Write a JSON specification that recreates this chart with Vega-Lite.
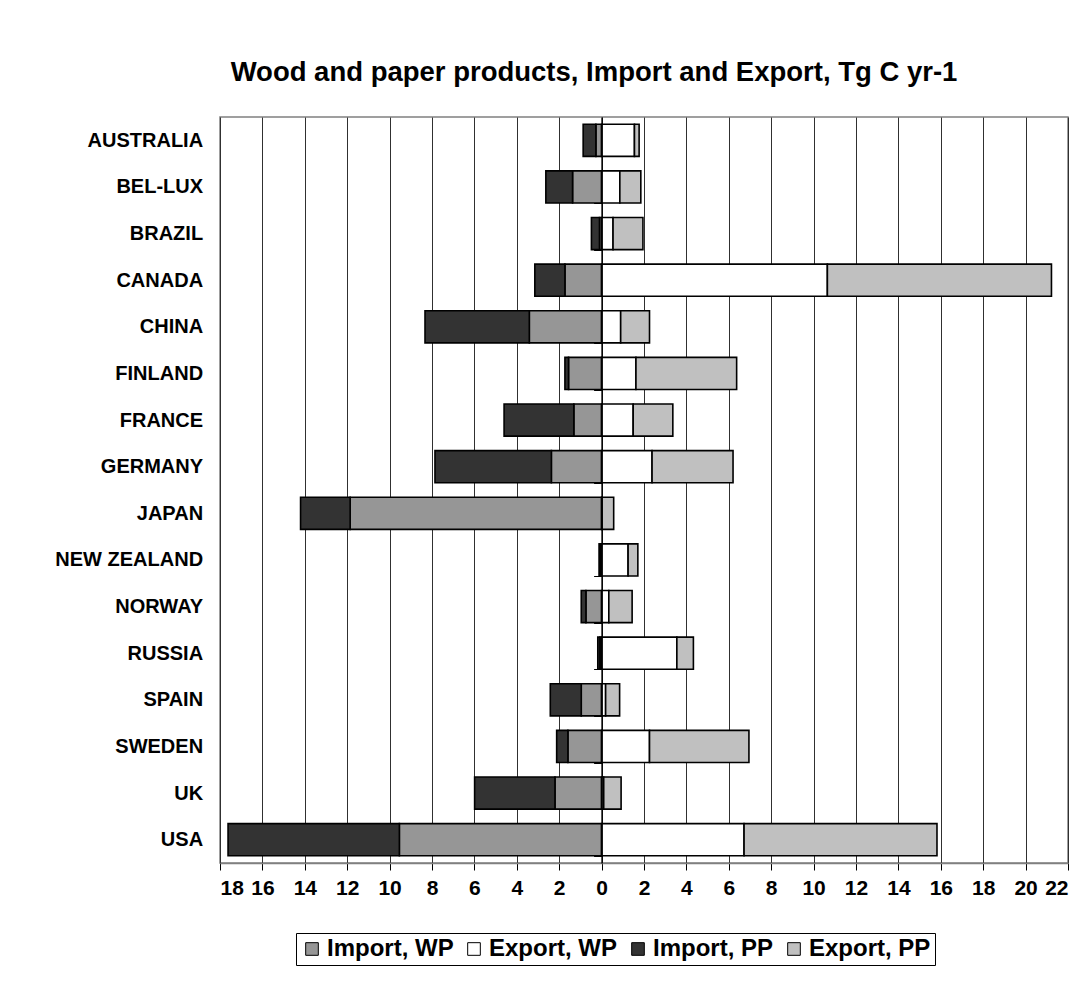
{
  "$schema": "https://vega.github.io/schema/vega-lite/v6.json",
  "width": 848,
  "height": 746,
  "autosize": {"type": "none"},
  "padding": {"left": 220, "top": 117, "right": 21, "bottom": 136},
  "background": "white",
  "title": {
    "text": "Wood and paper products, Import and Export, Tg C yr-1",
    "font": "Liberation Sans",
    "fontSize": 27.5,
    "fontWeight": "bold",
    "color": "black",
    "anchor": "middle",
    "dx": -50,
    "offset": 21
  },
  "data": {
    "values": [
      {"country": "AUSTRALIA", "flow": "Import, WP", "value": -0.27},
      {"country": "AUSTRALIA", "flow": "Export, WP", "value": 1.55},
      {"country": "AUSTRALIA", "flow": "Import, PP", "value": -0.6},
      {"country": "AUSTRALIA", "flow": "Export, PP", "value": 0.22},
      {"country": "BEL-LUX", "flow": "Import, WP", "value": -1.37},
      {"country": "BEL-LUX", "flow": "Export, WP", "value": 0.86},
      {"country": "BEL-LUX", "flow": "Import, PP", "value": -1.26},
      {"country": "BEL-LUX", "flow": "Export, PP", "value": 0.99},
      {"country": "BRAZIL", "flow": "Import, WP", "value": -0.1},
      {"country": "BRAZIL", "flow": "Export, WP", "value": 0.54},
      {"country": "BRAZIL", "flow": "Import, PP", "value": -0.38},
      {"country": "BRAZIL", "flow": "Export, PP", "value": 1.41},
      {"country": "CANADA", "flow": "Import, WP", "value": -1.73},
      {"country": "CANADA", "flow": "Export, WP", "value": 10.65},
      {"country": "CANADA", "flow": "Import, PP", "value": -1.42},
      {"country": "CANADA", "flow": "Export, PP", "value": 10.57},
      {"country": "CHINA", "flow": "Import, WP", "value": -3.41},
      {"country": "CHINA", "flow": "Export, WP", "value": 0.9},
      {"country": "CHINA", "flow": "Import, PP", "value": -4.92},
      {"country": "CHINA", "flow": "Export, PP", "value": 1.36},
      {"country": "FINLAND", "flow": "Import, WP", "value": -1.56},
      {"country": "FINLAND", "flow": "Export, WP", "value": 1.62},
      {"country": "FINLAND", "flow": "Import, PP", "value": -0.17},
      {"country": "FINLAND", "flow": "Export, PP", "value": 4.75},
      {"country": "FRANCE", "flow": "Import, WP", "value": -1.31},
      {"country": "FRANCE", "flow": "Export, WP", "value": 1.49},
      {"country": "FRANCE", "flow": "Import, PP", "value": -3.29},
      {"country": "FRANCE", "flow": "Export, PP", "value": 1.87},
      {"country": "GERMANY", "flow": "Import, WP", "value": -2.37},
      {"country": "GERMANY", "flow": "Export, WP", "value": 2.38},
      {"country": "GERMANY", "flow": "Import, PP", "value": -5.49},
      {"country": "GERMANY", "flow": "Export, PP", "value": 3.82},
      {"country": "JAPAN", "flow": "Import, WP", "value": -11.86},
      {"country": "JAPAN", "flow": "Export, WP", "value": 0.02},
      {"country": "JAPAN", "flow": "Import, PP", "value": -2.34},
      {"country": "JAPAN", "flow": "Export, PP", "value": 0.55},
      {"country": "NEW ZEALAND", "flow": "Import, WP", "value": -0.06},
      {"country": "NEW ZEALAND", "flow": "Export, WP", "value": 1.25},
      {"country": "NEW ZEALAND", "flow": "Import, PP", "value": -0.06},
      {"country": "NEW ZEALAND", "flow": "Export, PP", "value": 0.46},
      {"country": "NORWAY", "flow": "Import, WP", "value": -0.74},
      {"country": "NORWAY", "flow": "Export, WP", "value": 0.34},
      {"country": "NORWAY", "flow": "Import, PP", "value": -0.22},
      {"country": "NORWAY", "flow": "Export, PP", "value": 1.1},
      {"country": "RUSSIA", "flow": "Import, WP", "value": -0.08},
      {"country": "RUSSIA", "flow": "Export, WP", "value": 3.55},
      {"country": "RUSSIA", "flow": "Import, PP", "value": -0.1},
      {"country": "RUSSIA", "flow": "Export, PP", "value": 0.78},
      {"country": "SPAIN", "flow": "Import, WP", "value": -0.96},
      {"country": "SPAIN", "flow": "Export, WP", "value": 0.19},
      {"country": "SPAIN", "flow": "Import, PP", "value": -1.46},
      {"country": "SPAIN", "flow": "Export, PP", "value": 0.66},
      {"country": "SWEDEN", "flow": "Import, WP", "value": -1.59},
      {"country": "SWEDEN", "flow": "Export, WP", "value": 2.26},
      {"country": "SWEDEN", "flow": "Import, PP", "value": -0.53},
      {"country": "SWEDEN", "flow": "Export, PP", "value": 4.69},
      {"country": "UK", "flow": "Import, WP", "value": -2.2},
      {"country": "UK", "flow": "Export, WP", "value": 0.1},
      {"country": "UK", "flow": "Import, PP", "value": -3.79},
      {"country": "UK", "flow": "Export, PP", "value": 0.82},
      {"country": "USA", "flow": "Import, WP", "value": -9.54},
      {"country": "USA", "flow": "Export, WP", "value": 6.72},
      {"country": "USA", "flow": "Import, PP", "value": -8.08},
      {"country": "USA", "flow": "Export, PP", "value": 9.1}
    ]
  },
  "mark": {"type": "bar", "stroke": "black", "strokeWidth": 1.6},
  "encoding": {
    "y": {
      "field": "country",
      "type": "nominal",
      "sort": "ascending",
      "scale": {"paddingInner": 0.31, "paddingOuter": 0.155},
      "axis": {
        "title": null,
        "offset": -381.6,
        "zindex": 1,
        "domainColor": "black",
        "domainWidth": 1.5,
        "tickBand": "extent",
        "tickSize": 8,
        "tickColor": "black",
        "tickWidth": 1,
        "labelPadding": 391,
        "labelFont": "Liberation Sans",
        "labelFontSize": 20,
        "labelFontWeight": "bold",
        "labelColor": "black"
      }
    },
    "x": {
      "field": "value",
      "type": "quantitative",
      "stack": "zero",
      "scale": {"domain": [-18, 22], "nice": false, "zero": false},
      "axis": {
        "title": null,
        "values": [-18, -16, -14, -12, -10, -8, -6, -4, -2, 0, 2, 4, 6, 8, 10, 12, 14, 16, 18, 20, 22],
        "labelExpr": "format(abs(datum.value), 'd')",
        "grid": true,
        "gridColor": "#303030",
        "gridWidth": 1,
        "domainColor": "#808080",
        "domainWidth": 1.5,
        "tickColor": "black",
        "tickSize": 7,
        "labelPadding": 7,
        "labelFont": "Liberation Sans",
        "labelFontSize": 21,
        "labelFontWeight": "bold",
        "labelColor": "black"
      }
    },
    "color": {
      "field": "flow",
      "type": "nominal",
      "scale": {
        "domain": ["Import, WP", "Export, WP", "Import, PP", "Export, PP"],
        "range": ["#969696", "#ffffff", "#333333", "#c0c0c0"]
      },
      "legend": {
        "title": null,
        "orient": "none",
        "legendX": 76,
        "legendY": 816,
        "direction": "horizontal",
        "strokeColor": "black",
        "padding": 4,
        "symbolType": "square",
        "symbolSize": 160,
        "symbolStrokeColor": "black",
        "symbolStrokeWidth": 1,
        "labelFont": "Liberation Sans",
        "labelFontSize": 24,
        "labelFontWeight": "bold",
        "labelColor": "black",
        "labelOffset": 3,
        "labelLimit": 300,
        "columnPadding": 8
      }
    },
    "order": {"field": "flow", "sort": "descending"}
  },
  "config": {
    "view": {"stroke": "#808080", "strokeWidth": 1.5}
  }
}
